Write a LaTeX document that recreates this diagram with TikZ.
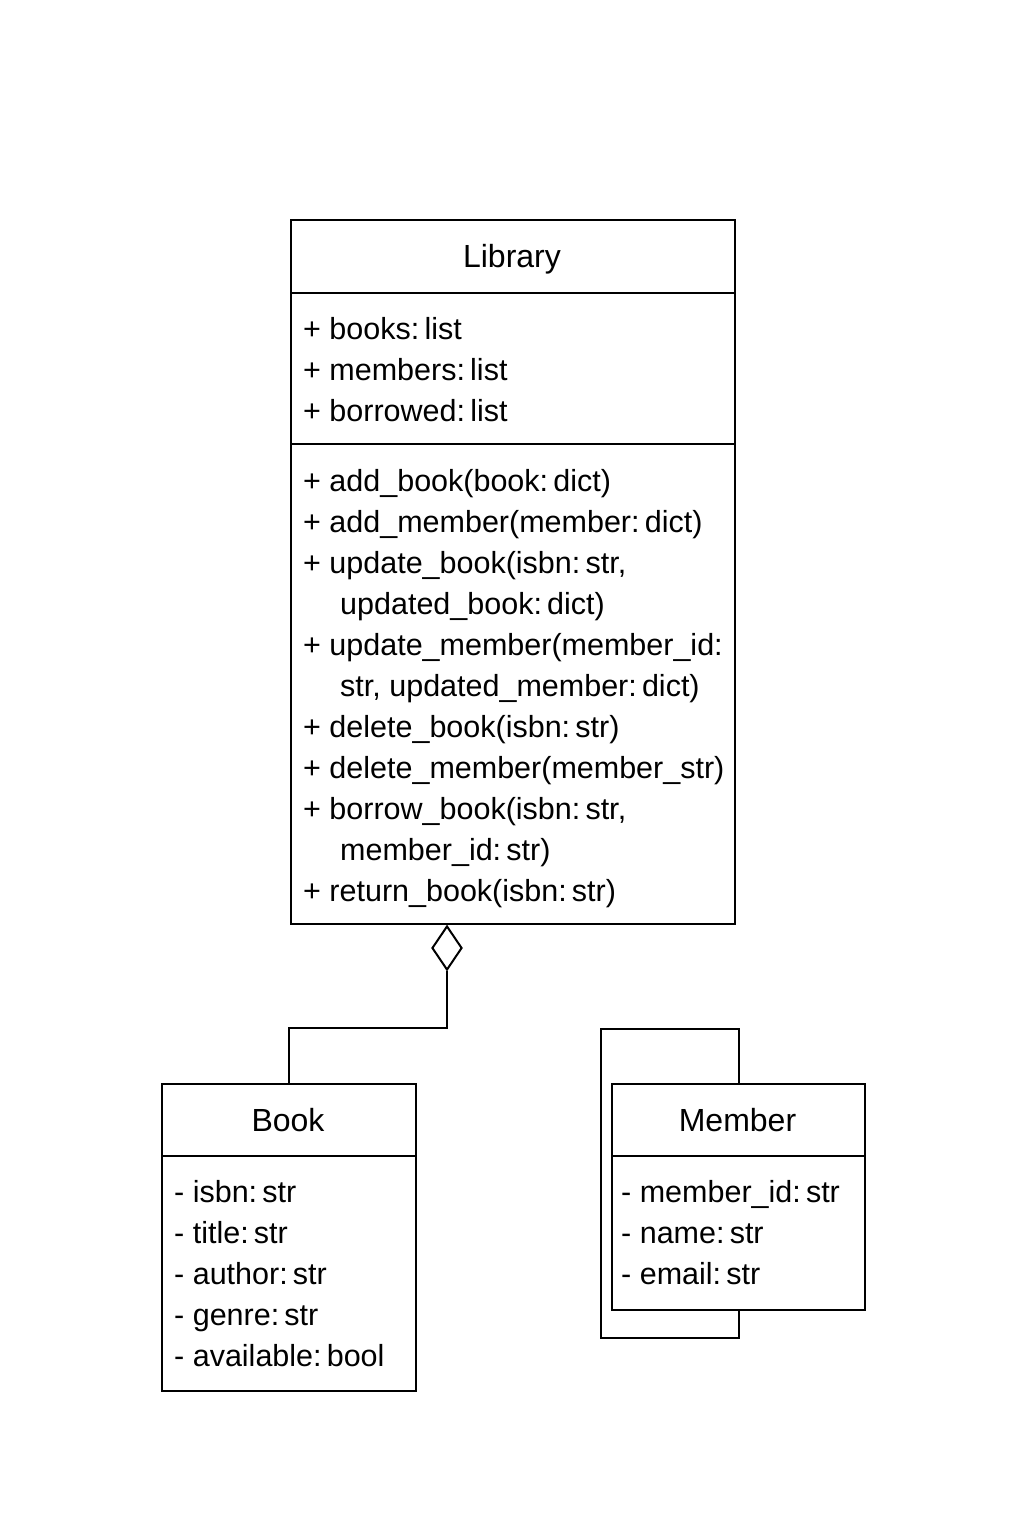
\documentclass[tikz,border=0pt]{standalone}
\usepackage{fontspec}
\setmainfont{Liberation Sans}
\usetikzlibrary{shapes.geometric}
% narrow gap used after a colon in member declarations
\newcommand\cgap{\hspace{0.17em}}
\begin{document}
\begin{tikzpicture}[x=1pt,y=-1pt,
  box/.style={draw, line width=2pt, rectangle, inner sep=0pt, anchor=north west},
  rule/.style={line width=2pt},
  txt/.style={anchor=base west, inner sep=0pt, font=\fontsize{30.5}{36}\selectfont},
  title/.style={anchor=base, inner sep=0pt, font=\fontsize{32}{36}\selectfont},
  link/.style={line width=2pt, line join=miter}]
\useasboundingbox (0,0) rectangle (1024,1536);

% ---------- Library class ----------
\node[box, minimum width=444pt, minimum height=704pt] (lib) at (290,219) {};
\draw[rule] (lib.west |- 0,293) -- (lib.east |- 0,293);
\draw[rule] (lib.west |- 0,444) -- (lib.east |- 0,444);
\node[title] (libname) at (512,267) {Library};
\foreach \t [count=\i] in {{+ books:\cgap list},{+ members:\cgap list},{+ borrowed:\cgap list}}
  \node[txt] (libattr\i) at (303,{339+41*(\i-1)}) {\t};
\foreach \t [count=\i] in {
  {+ add\_book(book:\cgap dict)},
  {+ add\_member(member:\cgap dict)},
  {+ update\_book(isbn:\cgap str,},
  {\hspace*{37pt}updated\_book:\cgap dict)},
  {+ update\_member(member\_id:},
  {\hspace*{37pt}str, updated\_member:\cgap dict)},
  {+ delete\_book(isbn:\cgap str)},
  {+ delete\_member(member\_str)},
  {+ borrow\_book(isbn:\cgap str,},
  {\hspace*{37pt}member\_id:\cgap str)},
  {+ return\_book(isbn:\cgap str)}}
  \node[txt] (libop\i) at (303,{491+41*(\i-1)}) {\t};

% ---------- Book class ----------
\node[box, minimum width=254pt, minimum height=307pt] (book) at (161,1083) {};
\draw[rule] (book.west |- 0,1156) -- (book.east |- 0,1156);
\node[title] (bookname) at (288,1131) {Book};
\foreach \t [count=\i] in {{- isbn:\cgap str},{- title:\cgap str},{- author:\cgap str},{- genre:\cgap str},{- available:\cgap bool}}
  \node[txt] (bookattr\i) at (174,{1202+41*(\i-1)}) {\t};

% ---------- Member class ----------
\node[box, minimum width=253pt, minimum height=226pt] (member) at (611,1083) {};
\draw[rule] (member.west |- 0,1156) -- (member.east |- 0,1156);
\node[title] (membername) at (737.5,1131) {Member};
\foreach \t [count=\i] in {{- member\_id:\cgap str},{- name:\cgap str},{- email:\cgap str}}
  \node[txt] (memberattr\i) at (621,{1202+41*(\i-1)}) {\t};

% ---------- Aggregation: Library <>-- Book ----------
\node[draw, line width=2pt, diamond, fill=white, inner sep=0pt,
      minimum width=30pt, minimum height=44pt, anchor=north] (agg) at (447,925) {};
\draw[link] (agg.south) -- (agg.south |- 0,1028) -| (book.north);

% ---------- Member self-association ----------
\coordinate (loopA) at (601,1029);
\coordinate (loopB) at (601,1338);
\draw[link] (member.north) |- (loopA) -- (loopB) -| (member.south);
\end{tikzpicture}
\end{document}
